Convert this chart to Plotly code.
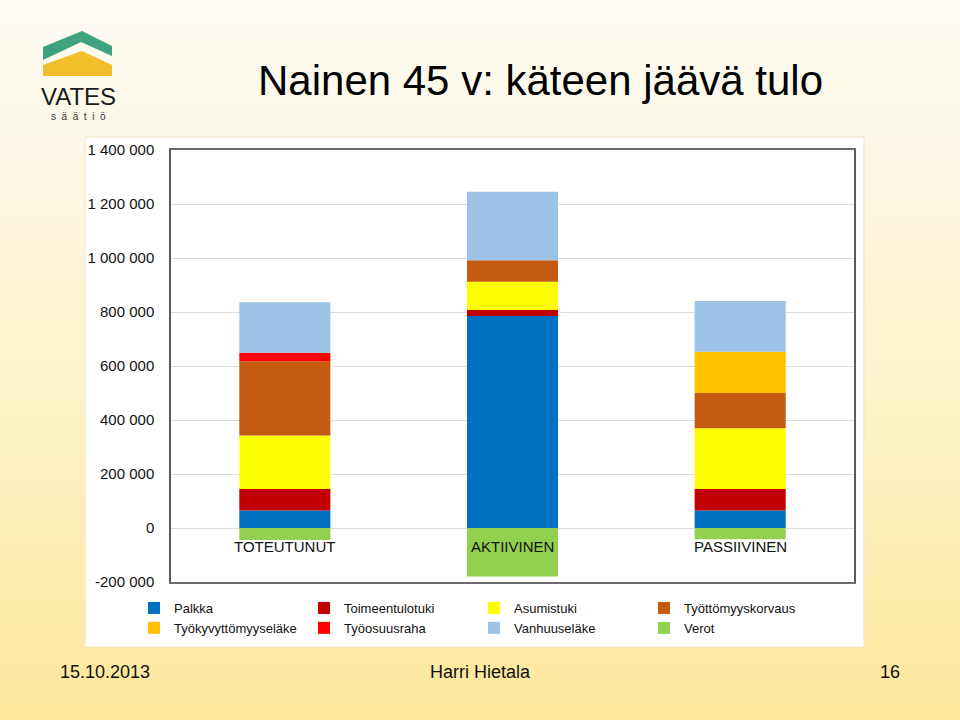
import plotly.graph_objects as go

# ---------------- data ----------------
categories = ["TOTEUTUNUT", "AKTIIVINEN", "PASSIIVINEN"]
series_names = ["Palkka", "Toimeentulotuki", "Asumistuki", "Työttömyyskorvaus",
                "Työkyvyttömyyseläke", "Työosuusraha", "Vanhuuseläke", "Verot"]
palkka = [65000, 785000, 65000]
toimeentulotuki = [79000, 22000, 79000]
asumistuki = [199000, 105000, 225000]
tyottomyyskorvaus = [275000, 80000, 131000]
tyokyvyttomyyselake = [0, 0, 153000]
tyoosuusraha = [31000, 0, 0]
vanhuuselake = [187000, 253000, 188000]
verot = [-44000, -180000, -42000]
series_values = [palkka, toimeentulotuki, asumistuki, tyottomyyskorvaus,
                 tyokyvyttomyyselake, tyoosuusraha, vanhuuselake, verot]
tick_values = [-200000, 0, 200000, 400000, 600000, 800000, 1000000, 1200000, 1400000]
tick_labels = ["-200 000", "0", "200 000", "400 000", "600 000", "800 000",
               "1 000 000", "1 200 000", "1 400 000"]

colors = ["#0070C0", "#C00000", "#FFFF00", "#C55A11",
          "#FFC000", "#FF0000", "#9DC3E6", "#92D050"]

# ---------------- layout geometry ----------------
W, H = 960, 720
L, R, T, B = 171, 854, 150, 582


def px(x):
    return (x - L) / (R - L)


def py(y):
    return (B - y) / (B - T)


fig = go.Figure()
for name, vals, col in zip(series_names, series_values, colors):
    fig.add_trace(go.Bar(x=categories, y=vals, name=name, marker_color=col,
                         marker_line_width=0, width=0.4))

shapes = []
# background gradient (top cream -> bottom yellow)
top_c = (253, 251, 242)
bot_c = (253, 232, 155)
n = 36
for i in range(n):
    t = i / (n - 1)
    c = tuple(int(round(top_c[k] + (bot_c[k] - top_c[k]) * t ** 1.2)) for k in range(3))
    y0 = i * H / n
    y1 = (i + 1) * H / n + 1
    shapes.append(dict(type="rect", xref="paper", yref="paper", layer="below",
                       x0=px(0), x1=px(W), y0=py(y1), y1=py(y0),
                       line_width=0, fillcolor="rgb(%d,%d,%d)" % c))
# white chart area
shapes.append(dict(type="rect", xref="paper", yref="paper", layer="below",
                   x0=px(85), x1=px(864), y0=py(647), y1=py(137),
                   line=dict(color="#efe6c8", width=1), fillcolor="white"))


def poly(pts):
    return "M " + " L ".join("%.4f,%.4f" % (px(a), py(b)) for a, b in pts) + " Z"


# logo
shapes.append(dict(type="path", xref="paper", yref="paper",
                   path=poly([(43, 47), (82, 31), (112, 46), (112, 56), (81, 42), (43, 60)]),
                   fillcolor="#3FA27E", line_width=0))
shapes.append(dict(type="path", xref="paper", yref="paper",
                   path=poly([(43, 65), (82, 51), (112, 65), (112, 76), (43, 76)]),
                   fillcolor="#F2BE2C", line_width=0))

annotations = []
for c in categories:
    annotations.append(dict(x=c, y=0, xref="x", yref="y", text=c, showarrow=False,
                            yanchor="top", yshift=-8,
                            font=dict(family="Arial, Liberation Sans", size=15, color="#111")))
annotations.append(dict(x=px(256), y=py(80), xref="paper", yref="paper",
                        text="Nainen 45 v: käteen jäävä tulo", showarrow=False,
                        xanchor="left", yanchor="middle",
                        font=dict(family="Arial, Liberation Sans", size=42, color="#000")))
annotations.append(dict(x=px(78), y=py(96), xref="paper", yref="paper", text="VATES",
                        showarrow=False, xanchor="center", yanchor="middle",
                        font=dict(family="Arial, Liberation Sans", size=24,
                                  color="#1a1a1a")))
annotations.append(dict(x=px(78), y=py(116), xref="paper", yref="paper",
                        text="s  ä  ä  t  i  ö", showarrow=False,
                        xanchor="center", yanchor="middle",
                        font=dict(family="Arial, Liberation Sans", size=10, color="#333")))
for txt, x, anc in [("15.10.2013", 58, "left"), ("Harri Hietala", 480, "center"),
                    ("16", 902, "right")]:
    annotations.append(dict(x=px(x), y=py(672), xref="paper", yref="paper", text=txt,
                            showarrow=False, xanchor=anc, yanchor="middle",
                            font=dict(family="Arial, Liberation Sans", size=18, color="#111")))

fig.update_layout(
    width=W, height=H,
    margin=dict(l=L, r=W - R, t=T, b=H - B, pad=0),
    barmode="relative",
    paper_bgcolor="#fdf3cc",
    plot_bgcolor="white",
    font=dict(family="Arial, Liberation Sans", color="#111"),
    shapes=shapes,
    annotations=annotations,
    showlegend=True,
    legend=dict(orientation="h", x=px(474), xanchor="center", y=py(593), yanchor="top",
                entrywidth=125, entrywidthmode="pixels", traceorder="normal",
                font=dict(size=13, color="#111"), bgcolor="rgba(0,0,0,0)"),
    xaxis=dict(showticklabels=False, showgrid=False, zeroline=False,
               showline=True, mirror=True, linecolor="#6b6b6b", linewidth=1.5,
               ticks=""),
    yaxis=dict(range=[-200000, 1400000], tickvals=tick_values, ticktext=tick_labels,
               showgrid=True, gridcolor="#dcdcdc", gridwidth=1, zeroline=False,
               showline=True, mirror=True, linecolor="#5a5a5a", linewidth=1.5,
               ticks="", ticklabelstandoff=12,
               tickfont=dict(size=15, color="#111")),
)

fig.write_html("out.html")
